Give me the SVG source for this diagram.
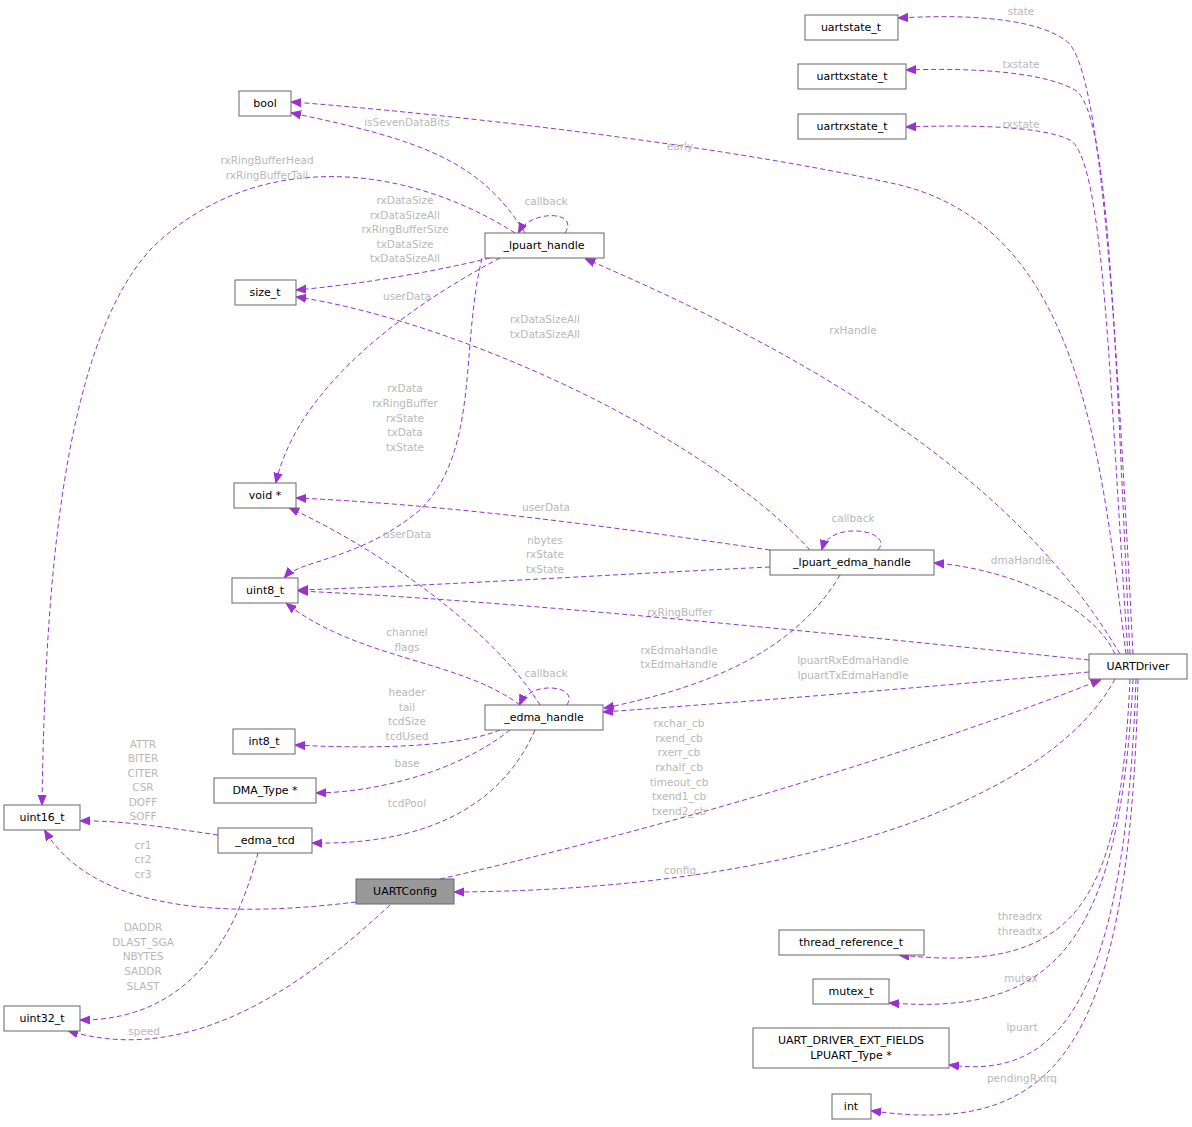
<svg xmlns="http://www.w3.org/2000/svg" width="1192" height="1127" viewBox="0 0 1192 1127">
<style>
.n rect{fill:#fff;stroke:#666;stroke-width:1}
.n text{font-family:"DejaVu Sans",sans-serif;font-size:11px;fill:#000;text-anchor:middle}
.e path{fill:none;stroke:#9a32cd;stroke-width:1;stroke-dasharray:5,3;marker-end:url(#a)}
.l text{font-family:"DejaVu Sans",sans-serif;font-size:10.5px;fill:#b8b8b8;text-anchor:middle}
</style>
<defs><marker id="a" viewBox="0 0 10 10" refX="9" refY="5" markerWidth="10" markerHeight="10" markerUnits="userSpaceOnUse" orient="auto"><path d="M0,1 L10,5 L0,9 z" fill="#9a32cd" stroke="#9a32cd"/></marker></defs>
<rect width="1192" height="1127" fill="#fff"/>
<g class="e" id="connectors">
<path d="M1133,654 C1115,300 1100,60 1065,40 C1030,15 950,15 899,18"/>
<path d="M1130,654 C1115,350 1110,110 1075,90 C1040,70 960,68 907,70"/>
<path d="M1128,654 C1110,400 1105,160 1070,140 C1040,125 960,125 907,127"/>
<path d="M1126,654 C1100,450 1080,230 900,185 C700,140 400,110 292,102"/>
<path d="M1120,654 C1000,450 750,330 586,259"/>
<path d="M1115,654 C1090,600 1000,568 935,563"/>
<path d="M1089,660 C800,630 500,600 299,591"/>
<path d="M1089,672 C900,690 700,705 604,712"/>
<path d="M1115,679 C1050,800 800,890 455,892"/>
<path d="M440,879 C700,820 950,740 1100,680"/>
<path d="M1130,679 C1120,900 1080,975 900,955"/>
<path d="M1133,679 C1120,950 1050,1015 890,1003"/>
<path d="M1136,679 C1125,1000 1060,1080 950,1065"/>
<path d="M1138,679 C1130,1060 1050,1135 872,1111"/>
<path d="M525,233 C480,160 420,140 292,113"/>
<path d="M515,233 C400,160 250,150 150,250 C60,350 45,600 42,804"/>
<path d="M565,233 C580,210 530,210 519,232"/>
<path d="M490,258 C420,275 350,285 297,290"/>
<path d="M500,258 C420,300 300,380 276,482"/>
<path d="M482,258 C460,350 480,450 420,510 C360,560 300,560 285,577"/>
<path d="M810,550 C700,430 450,320 297,297"/>
<path d="M878,550 C895,530 830,520 822,549"/>
<path d="M770,550 C600,525 450,505 297,498"/>
<path d="M770,567 C600,575 450,585 299,590"/>
<path d="M840,575 C790,660 690,690 605,708"/>
<path d="M520,705 C460,660 360,660 287,604"/>
<path d="M540,705 C500,640 400,560 290,508"/>
<path d="M567,705 C580,685 530,680 520,704"/>
<path d="M500,730 C450,750 350,748 296,745"/>
<path d="M510,730 C460,770 380,792 317,793"/>
<path d="M535,730 C500,810 420,845 313,843"/>
<path d="M218,835 C170,828 120,820 81,821"/>
<path d="M258,853 C240,920 200,1020 81,1020"/>
<path d="M356,902 C250,915 100,920 45,831"/>
<path d="M390,905 C320,970 200,1070 69,1031"/>
</g>
<g class="l" id="labels">
<text x="1021" y="15">state</text>
<text x="1021" y="68">txstate</text>
<text x="1021" y="128">rxstate</text>
<text x="680" y="150">early</text>
<text x="853" y="334">rxHandle</text>
<text x="1021" y="564">dmaHandle</text>
<text x="680" y="616">rxRingBuffer</text>
<text x="853" y="664">lpuartRxEdmaHandle</text><text x="853" y="679">lpuartTxEdmaHandle</text>
<text x="680" y="874">config</text>
<text x="679" y="727">rxchar_cb</text><text x="679" y="742">rxend_cb</text><text x="679" y="756">rxerr_cb</text><text x="679" y="771">rxhalf_cb</text><text x="679" y="786">timeout_cb</text><text x="679" y="800">txend1_cb</text><text x="679" y="815">txend2_cb</text>
<text x="1020" y="920">threadrx</text><text x="1020" y="935">threadtx</text>
<text x="1021" y="982">mutex</text>
<text x="1022" y="1031">lpuart</text>
<text x="1022" y="1082">pendingRxIrq</text>
<text x="407" y="126">isSevenDataBits</text>
<text x="267" y="164">rxRingBufferHead</text><text x="267" y="179">rxRingBufferTail</text>
<text x="546" y="205">callback</text>
<text x="405" y="204">rxDataSize</text><text x="405" y="219">rxDataSizeAll</text><text x="405" y="233">rxRingBufferSize</text><text x="405" y="248">txDataSize</text><text x="405" y="262">txDataSizeAll</text>
<text x="407" y="300">userData</text>
<text x="545" y="323">rxDataSizeAll</text><text x="545" y="338">txDataSizeAll</text>
<text x="405" y="392">rxData</text><text x="405" y="407">rxRingBuffer</text><text x="405" y="422">rxState</text><text x="405" y="436">txData</text><text x="405" y="451">txState</text>
<text x="546" y="511">userData</text>
<text x="853" y="522">callback</text>
<text x="407" y="538">userData</text>
<text x="545" y="544">nbytes</text><text x="545" y="558">rxState</text><text x="545" y="573">txState</text>
<text x="407" y="636">channel</text><text x="407" y="651">flags</text>
<text x="679" y="654">rxEdmaHandle</text><text x="679" y="668">txEdmaHandle</text>
<text x="546" y="677">callback</text>
<text x="407" y="696">header</text><text x="407" y="711">tail</text><text x="407" y="725">tcdSize</text><text x="407" y="740">tcdUsed</text>
<text x="407" y="767">base</text>
<text x="407" y="807">tcdPool</text>
<text x="143" y="748">ATTR</text><text x="143" y="762">BITER</text><text x="143" y="777">CITER</text><text x="143" y="791">CSR</text><text x="143" y="806">DOFF</text><text x="143" y="820">SOFF</text>
<text x="143" y="849">cr1</text><text x="143" y="863">cr2</text><text x="143" y="878">cr3</text>
<text x="143" y="931">DADDR</text><text x="143" y="946">DLAST_SGA</text><text x="143" y="960">NBYTES</text><text x="143" y="975">SADDR</text><text x="143" y="990">SLAST</text>
<text x="144" y="1035">speed</text>
</g>
<g class="n" id="uartstate_t"><rect x="805" y="15" width="93" height="25"/><text x="851" y="31">uartstate_t</text></g>
<g class="n" id="uarttxstate_t"><rect x="798" y="64" width="108" height="25"/><text x="852" y="80">uarttxstate_t</text></g>
<g class="n" id="uartrxstate_t"><rect x="798" y="114" width="108" height="25"/><text x="852" y="130">uartrxstate_t</text></g>
<g class="n" id="bool"><rect x="239" y="91" width="52" height="25"/><text x="265" y="107">bool</text></g>
<g class="n" id="lpuart_handle"><rect x="485" y="233" width="119" height="25"/><text x="544" y="249">_lpuart_handle</text></g>
<g class="n" id="size_t"><rect x="235" y="280" width="61" height="25"/><text x="265" y="296">size_t</text></g>
<g class="n" id="void"><rect x="234" y="483" width="62" height="25"/><text x="265" y="499">void *</text></g>
<g class="n" id="lpuart_edma_handle"><rect x="770" y="550" width="164" height="25"/><text x="852" y="566">_lpuart_edma_handle</text></g>
<g class="n" id="uint8_t"><rect x="232" y="578" width="66" height="25"/><text x="265" y="594">uint8_t</text></g>
<g class="n" id="UARTDriver"><rect x="1089" y="654" width="98" height="25"/><text x="1138" y="670">UARTDriver</text></g>
<g class="n" id="edma_handle"><rect x="485" y="705" width="118" height="25"/><text x="544" y="721">_edma_handle</text></g>
<g class="n" id="int8_t"><rect x="233" y="729" width="62" height="25"/><text x="264" y="745">int8_t</text></g>
<g class="n" id="DMA_Type"><rect x="214" y="778" width="102" height="25"/><text x="265" y="794">DMA_Type *</text></g>
<g class="n" id="uint16_t"><rect x="4" y="805" width="76" height="25"/><text x="42" y="821">uint16_t</text></g>
<g class="n" id="edma_tcd"><rect x="218" y="828" width="94" height="25"/><text x="265" y="844">_edma_tcd</text></g>
<g class="n" id="UARTConfig"><rect x="356" y="879" width="98" height="25" style="fill:#999"/><text x="405" y="895">UARTConfig</text></g>
<g class="n" id="thread_reference_t"><rect x="779" y="930" width="145" height="25"/><text x="851" y="946">thread_reference_t</text></g>
<g class="n" id="mutex_t"><rect x="813" y="979" width="76" height="25"/><text x="851" y="995">mutex_t</text></g>
<g class="n" id="ext_fields"><rect x="753" y="1028" width="196" height="40"/><text x="851" y="1044">UART_DRIVER_EXT_FIELDS</text><text x="851" y="1059">LPUART_Type *</text></g>
<g class="n" id="int"><rect x="832" y="1094" width="39" height="25"/><text x="851" y="1110">int</text></g>
<g class="n" id="uint32_t"><rect x="4" y="1006" width="76" height="25"/><text x="42" y="1022">uint32_t</text></g>
</svg>
